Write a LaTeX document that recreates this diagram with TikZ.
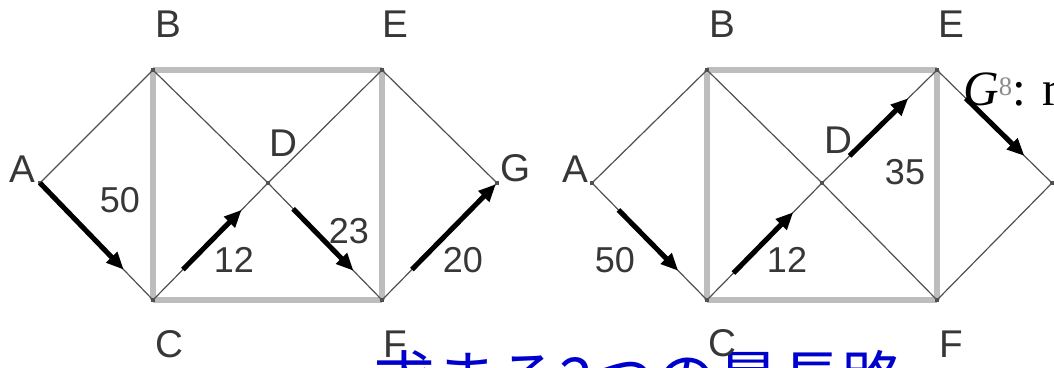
\documentclass[tikz,border=0pt]{standalone}
\usepackage{fontspec}
\setmainfont{Liberation Sans}
\newfontfamily\cjk{Noto Sans CJK JP}
\newfontfamily\serifT{Liberation Serif}
\usetikzlibrary{arrows.meta,calc}
\definecolor{grayedge}{RGB}{189,189,189}
\definecolor{thinedge}{RGB}{80,80,80}
\definecolor{labelc}{RGB}{55,55,55}
\definecolor{blueT}{RGB}{0,0,205}
\tikzset{
  gedge/.style={draw=grayedge, line width=4pt},
  tedge/.style={draw=thinedge, line width=0.9pt},
  pathseg/.style={draw=black, line width=3.8pt, -{Triangle[length=13pt,width=11pt]}},
  vlabel/.style={font=\fontsize{29}{30}\selectfont, text=labelc, inner sep=0pt},
  wlabel/.style={font=\fontsize{27}{28}\selectfont, text=labelc, inner sep=0pt},
  vdot/.style={fill=thinedge, inner sep=0pt, minimum size=3pt, rectangle}
}
\begin{document}
\begin{tikzpicture}[x=0.75pt,y=-0.75pt]
\useasboundingbox (0,0) rectangle (1054,368);
% left graph vertices
\coordinate (lA) at (40,183);
\coordinate (lB) at (153,70);
\coordinate (lE) at (382,70);
\coordinate (lD) at (268,183);
\coordinate (lG) at (497,183);
\coordinate (lC) at (153,300);
\coordinate (lF) at (382,300);
% right graph vertices
\coordinate (rA) at (592,183);
\coordinate (rB) at (707,70);
\coordinate (rE) at (937,70);
\coordinate (rD) at (822,183);
\coordinate (rG) at (1052,183);
\coordinate (rC) at (707,300);
\coordinate (rF) at (937,300);
% blue caption
\node[anchor=base west, text=blueT, font=\cjk\fontsize{46.5}{50}\selectfont, inner sep=0pt] (title) at (373,402) {求まる2つの最長路};
% edges
\foreach \g in {l,r}{
  \draw[gedge] (\g B) -- (\g E);
  \draw[gedge] (\g B) -- (\g C);
  \draw[gedge] (\g C) -- (\g F);
  \draw[gedge] (\g E) -- (\g F);
  \draw[tedge] (\g A) -- (\g B);
  \draw[tedge] (\g A) -- (\g C);
  \draw[tedge] (\g B) -- (\g D);
  \draw[tedge] (\g D) -- (\g F);
  \draw[tedge] (\g C) -- (\g D);
  \draw[tedge] (\g D) -- (\g E);
  \draw[tedge] (\g E) -- (\g G);
  \draw[tedge] (\g F) -- (\g G);
  \foreach \v in {A,B,C,D,E,F,G}{ \node[vdot] at (\g\v) {}; }
}
% thick path arrows, left
\draw[pathseg] ($(lA)!0!(lC)$) -- ($(lA)!0.74!(lC)$);
\draw[pathseg] ($(lC)!0.26!(lD)$) -- ($(lC)!0.77!(lD)$);
\draw[pathseg] ($(lD)!0.22!(lF)$) -- ($(lD)!0.75!(lF)$);
\draw[pathseg] ($(lF)!0.26!(lG)$) -- ($(lF)!0.99!(lG)$);
% thick path arrows, right
\draw[pathseg] ($(rA)!0.23!(rC)$) -- ($(rA)!0.75!(rC)$);
\draw[pathseg] ($(rC)!0.23!(rD)$) -- ($(rC)!0.75!(rD)$);
\draw[pathseg] ($(rD)!0.24!(rE)$) -- ($(rD)!0.75!(rE)$);
\draw[pathseg] ($(rE)!0.25!(rG)$) -- ($(rE)!0.76!(rG)$);
% vertex labels, left
\node[vlabel] (lbB) at (168,24) {B};
\node[vlabel] (lbE) at (395,24) {E};
\node[vlabel] (lbA) at (22,169) {A};
\node[vlabel] (lbD) at (283,143) {D};
\node[vlabel] (lbG) at (516,168) {G};
\node[vlabel] (lbC) at (169,344) {C};
\node[vlabel] (lbF) at (395,344) {F};
% weights, left
\node[wlabel] (w1) at (120,200) {50};
\node[wlabel] (w2) at (234,260) {12};
\node[wlabel] (w3) at (349,231) {23};
\node[wlabel] (w4) at (463,260) {20};
% vertex labels, right
\node[vlabel] (rbB) at (722,24) {B};
\node[vlabel] (rbE) at (951,24) {E};
\node[vlabel] (rbA) at (575,169) {A};
\node[vlabel] (rbD) at (838,140) {D};
\node[vlabel] (rbC) at (722,343) {C};
\node[vlabel] (rbF) at (951,344) {F};
% weights, right
\node[wlabel] (w5) at (615,260) {50};
\node[wlabel] (w6) at (787,260) {12};
\node[wlabel] (w7) at (905,172) {35};
% overlapping note
\node[anchor=base west, inner sep=0pt, font=\serifT\fontsize{37}{40}\selectfont] (gnote) at (963,105) {\itshape G\upshape\raisebox{7pt}{\fontsize{20}{20}\selectfont\color{black!45}8}: r};
\end{tikzpicture}
\end{document}
